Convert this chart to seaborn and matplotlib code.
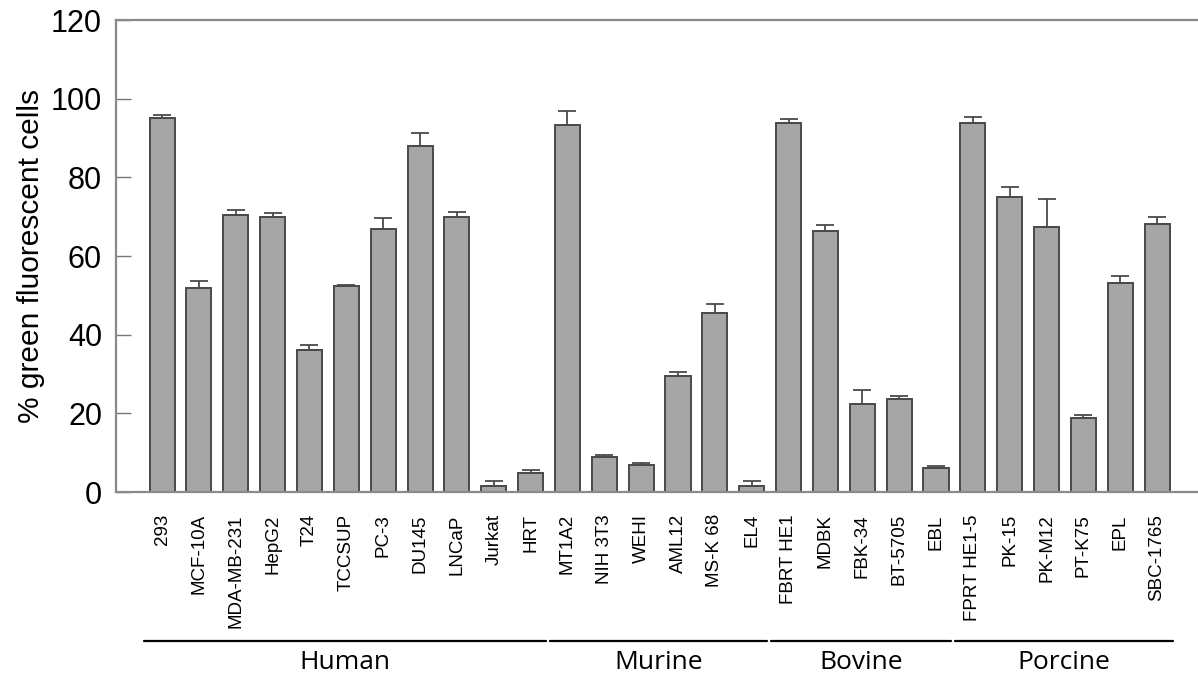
import numpy as np
import pandas as pd
import seaborn as sns
import matplotlib.pyplot as plt
import matplotlib.transforms as mtransforms

# cell lines, values
cell_lines = ['293', 'MCF-10A', 'MDA-MB-231', 'HepG2', 'T24', 'TCCSUP', 'PC-3',
              'DU145', 'LNCaP', 'Jurkat', 'HRT',
              'MT1A2', 'NIH 3T3', 'WEHI', 'AML12', 'MS-K 68', 'EL4',
              'FBRT HE1', 'MDBK', 'FBK-34', 'BT-5705', 'EBL',
              'FPRT HE1-5', 'PK-15', 'PK-M12', 'PT-K75', 'EPL', 'SBC-1765']
green_pct = [95.2, 51.8, 70.4, 69.8, 36.0, 52.4, 66.8, 88.0, 69.8, 1.5, 4.8,
             93.2, 9.0, 6.9, 29.5, 45.4, 1.4,
             93.7, 66.4, 22.5, 23.6, 6.1,
             93.9, 75.1, 67.5, 18.9, 53.1, 68.1]
err_pct = [0.7, 1.8, 1.3, 1.1, 1.4, 0.3, 2.8, 3.2, 1.5, 1.2, 0.8,
           3.7, 0.5, 0.5, 0.9, 2.3, 1.3,
           1.2, 1.5, 3.4, 0.8, 0.4,
           1.4, 2.4, 7.0, 0.7, 1.9, 1.8]
groups = ['Human', 'Murine', 'Bovine', 'Porcine']
group_sizes = [11, 6, 5, 6]

df = pd.DataFrame({'cell': cell_lines, 'pct': green_pct, 'err': err_pct})

sns.set_style('white')
plt.rcParams['font.family'] = ['Liberation Sans', 'DejaVu Sans']
plt.rcParams['text.color'] = 'black'
plt.rcParams['axes.labelcolor'] = 'black'
plt.rcParams['xtick.color'] = 'black'
plt.rcParams['ytick.color'] = 'black'

fig = plt.figure(figsize=(11.98, 6.77), dpi=100)
ax = fig.add_axes([116/1198, 1-492/677, 1-116/1198, (492-20)/677])

sns.barplot(data=df, x='cell', y='pct', ax=ax, color='#a6a6a6',
            edgecolor='#4a4a4a', linewidth=1.4, width=0.68, saturation=1,
            errorbar=None)
xpos = np.arange(len(df))
ax.errorbar(xpos, df['pct'], yerr=[np.zeros(len(df)), df['err']], fmt='none',
            ecolor='#4a4a4a', elinewidth=1.3, capsize=6.5, capthick=1.3)

ax.set_ylim(0, 120)
ax.set_xlim(-1.25, len(df) - 1 + 1.11)
ax.set_yticks([0, 20, 40, 60, 80, 100, 120])
ax.set_xlabel('')
ax.set_ylabel('% green fluorescent cells', fontsize=21.5, labelpad=4)
ax.tick_params(axis='y', left=True, direction='in', length=11, width=1,
               color='#777777', labelcolor='black', labelsize=22, pad=10)
ax.tick_params(axis='x', bottom=False, length=0, pad=16, labelcolor='black')
plt.setp(ax.get_xticklabels(), rotation=90, fontsize=13.5, va='top', ha='center')

for side in ['top', 'left', 'bottom']:
    ax.spines[side].set_color('#8a8a8a')
    ax.spines[side].set_linewidth(1.6)
ax.spines['right'].set_visible(False)

# group brackets under the tick labels
trans = mtransforms.blended_transform_factory(ax.transData, ax.transAxes)
start = 0
for name, n in zip(groups, group_sizes):
    x0, x1 = start - 0.48, start + n - 1 + 0.42
    ax.plot([x0, x1], [-0.316, -0.316], color='black', lw=1.6,
            transform=trans, clip_on=False)
    ax.text((x0 + x1) / 2, -0.375, name, transform=trans, ha='center',
            va='baseline', fontsize=19, color='black',
            family=['Open Sans', 'DejaVu Sans'])
    start += n

plt.savefig('out.png', dpi=100)
